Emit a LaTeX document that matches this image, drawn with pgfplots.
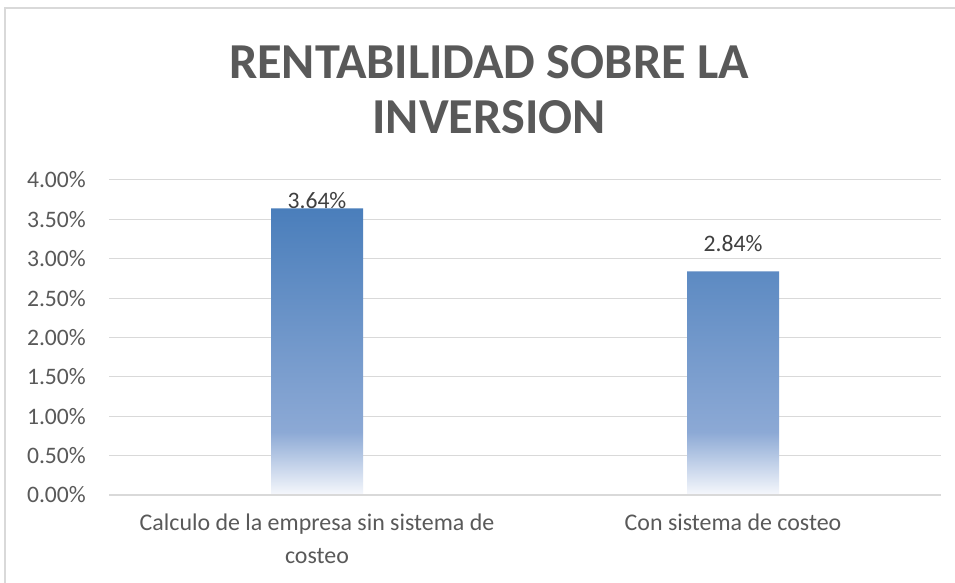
\documentclass[border=0pt]{standalone}
\usepackage{fontspec}
\setmainfont{Carlito}
\usepackage{pgfplots}
\pgfplotsset{compat=1.18}

\definecolor{txtgray}{HTML}{595959}
\definecolor{lblgray}{HTML}{404040}
\definecolor{gridgray}{HTML}{D9D9D9}
\definecolor{bartop}{HTML}{4A7EBB}
\definecolor{barmid}{HTML}{8CA9D5}
\definecolor{barbot}{HTML}{F6F8FC}

% Excel-like gradient: inner 25bp..75bp maps onto the bar
\pgfdeclareverticalshading{barfade}{100bp}{
  color(0bp)=(barbot); color(25bp)=(barbot);
  color(36bp)=(barmid); color(75bp)=(bartop); color(100bp)=(bartop)}

\begin{document}
\begin{tikzpicture}[x=1bp,y=1bp]
\useasboundingbox (0,0) rectangle (955,583);
\fill[white] (0,0) rectangle (955,583);
\draw[gridgray, line width=1.5bp] (5,0) -- (5,575) -- (955,575);

\node[font=\fontsize{50.5}{55}\selectfont\bfseries, text=txtgray, align=center]
  at (489,493) {RENTABILIDAD SOBRE LA\\INVERSION};

\begin{axis}[
    at={(109bp,88bp)}, anchor=south west,
    scale only axis, width=832bp, height=315bp,
    xmin=-0.5, xmax=1.5, ymin=0, ymax=4,
    ytick={0,0.5,...,4},
    xtick={0,1},
    xticklabels={{Calculo de la empresa sin sistema de\\costeo}, Con sistema de costeo},
    axis line style={draw=none},
    major tick length=0pt,
    ymajorgrids=true,
    grid style={gridgray, line width=1bp},
    /pgf/number format/assume math mode=true,
    yticklabel={\pgfmathprintnumber[fixed,fixed zerofill,precision=2]{\tick}\%},
    tick label style={font=\fontsize{23.7}{28}\selectfont, text=txtgray},
    yticklabel style={anchor=east, inner sep=0pt, xshift=-23bp},
    xticklabel style={anchor=north, inner sep=0pt, yshift=-19bp,
                      align=center,
                      font=\fontsize{24}{32.5}\selectfont},
    clip=false,
  ]
\node[font=\fontsize{23.7}{28}\selectfont, text=lblgray] at (axis cs:0,3.64) [yshift=8bp] {3.64\%};
\node[font=\fontsize{23.7}{28}\selectfont, text=lblgray] at (axis cs:1,2.84) [yshift=28bp] {2.84\%};
\addplot[ybar, bar width=92bp, draw=none, shading=barfade] coordinates {
  (0,3.64) (1,2.84)};
\draw[gridgray, line width=1.5bp] (axis cs:-0.5,0) -- (axis cs:1.5,0);
\end{axis}
\end{tikzpicture}
\end{document}
